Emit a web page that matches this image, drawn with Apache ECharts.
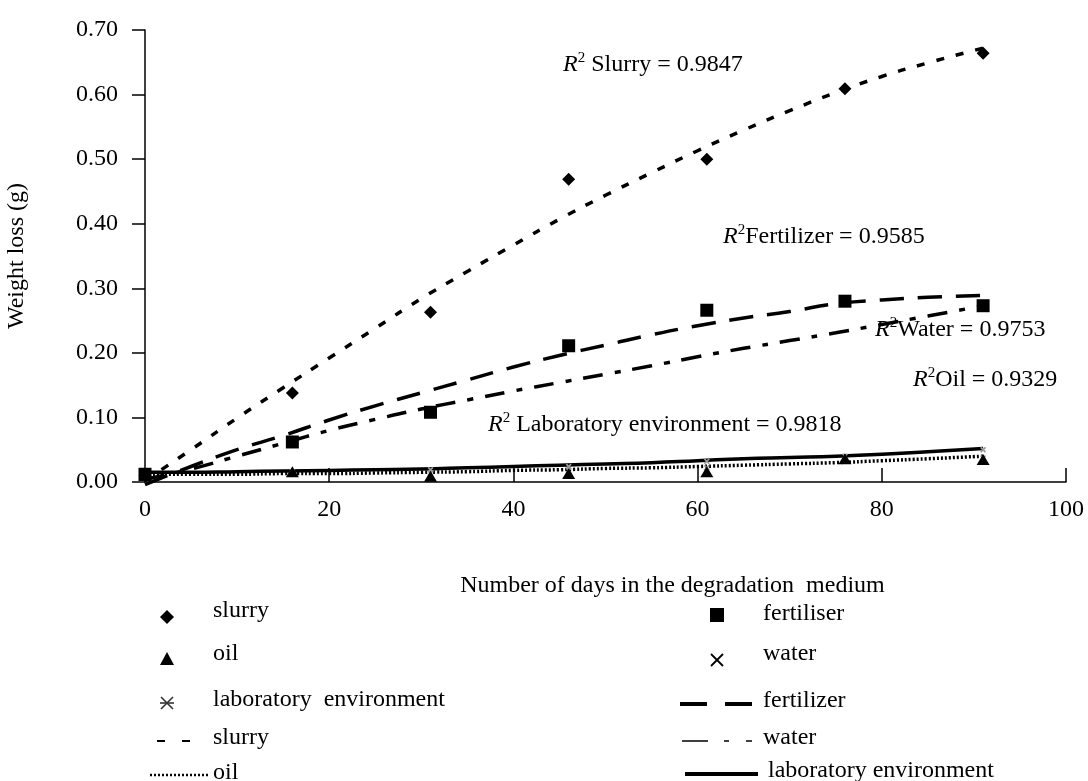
<!DOCTYPE html>
<html>
<head>
<meta charset="utf-8">
<script src="https://cdn.jsdelivr.net/npm/echarts@6/dist/echarts.min.js"></script>
<style>html,body{margin:0;padding:0;background:#fff}#c{width:1088px;height:781px}</style>
</head>
<body>
<div id="c"></div>
<script>
// ---- data ----
const days = [0, 16, 31, 46, 61, 76, 91];
const slurry = [0.010, 0.138, 0.263, 0.469, 0.500, 0.609, 0.664];
const fertiliser = [0.012, 0.062, 0.108, 0.211, 0.266, 0.280, 0.273];
const oil = [0.010, 0.016, 0.009, 0.013, 0.016, 0.036, 0.035];
const water = [0.010, 0.014, 0.014, 0.018, 0.022, 0.034, 0.037];
const lab = [0.014, 0.016, 0.019, 0.024, 0.032, 0.040, 0.050];

const trendDays = [0, 5, 10, 15, 20, 25, 30, 35, 40, 45, 50, 55, 60, 65, 70, 75, 80, 85, 91];
const slurryTrend = [0.002, 0.050, 0.099, 0.146, 0.192, 0.238, 0.284, 0.326, 0.367, 0.407, 0.444, 0.479, 0.513, 0.545, 0.575, 0.603, 0.628, 0.649, 0.672];
const fertTrend = [-0.004, 0.024, 0.050, 0.072, 0.096, 0.118, 0.138, 0.158, 0.178, 0.196, 0.212, 0.228, 0.242, 0.254, 0.264, 0.276, 0.282, 0.286, 0.289];
const waterTrend = [0.004, 0.020, 0.040, 0.060, 0.080, 0.097, 0.113, 0.127, 0.141, 0.154, 0.167, 0.180, 0.194, 0.207, 0.219, 0.231, 0.244, 0.257, 0.273];
const oilTrend = [0.012, 0.012, 0.012, 0.013, 0.013, 0.014, 0.015, 0.016, 0.018, 0.019, 0.021, 0.022, 0.024, 0.026, 0.028, 0.030, 0.033, 0.036, 0.040];
const labTrend = [0.015, 0.015, 0.016, 0.017, 0.018, 0.019, 0.020, 0.022, 0.024, 0.026, 0.028, 0.030, 0.033, 0.036, 0.038, 0.040, 0.043, 0.047, 0.052];

const yTicks = [0, 0.1, 0.2, 0.3, 0.4, 0.5, 0.6, 0.7];
const xTicks = [0, 20, 40, 60, 80, 100];

const annotations = [
  ['R', '2', ' Slurry = 0.9847'],
  ['R', '2', 'Fertilizer = 0.9585'],
  ['R', '2', 'Water = 0.9753'],
  ['R', '2', 'Oil = 0.9329'],
  ['R', '2', ' Laboratory environment = 0.9818']
];
const legendLeft = ['slurry', 'oil', 'laboratory  environment', 'slurry', 'oil'];
const legendRight = ['fertiliser', 'water', 'fertilizer', 'water', 'laboratory environment'];

// ---- helpers ----
const FONT = 'Liberation Serif';
const FS = 24;
const pair = (xs, ys) => xs.map((x, i) => [x, ys[i]]);

const crossPath = 'path://M2,0L5,3L8,0L10,2L7,5L10,8L8,10L5,7L2,10L0,8L3,5L0,2Z';

function lineSeries(name, xs, ys, type, width, clip) {
  return {
    name, type: 'line', data: pair(xs, ys), showSymbol: false, symbol: 'none',
    smooth: true, clip: clip !== false, z: 2,
    lineStyle: { color: '#000', width, type }
  };
}
function scatterSeries(name, ys, symbol, size, color) {
  return {
    name, type: 'scatter', data: pair(days, ys), symbol, symbolSize: size, z: 5,
    itemStyle: { color: color || '#000', opacity: 1 }
  };
}

const rich = {
  r: { fontFamily: FONT, fontSize: FS, fontStyle: 'italic', color: '#000' },
  s: { fontFamily: FONT, fontSize: 15, color: '#000', verticalAlign: 'top', padding: [0, 0, 13, 0] },
  t: { fontFamily: FONT, fontSize: FS, color: '#000' }
};
const annPos = [[563, 65], [723, 237], [875, 330], [913, 380], [488, 425]];
const graphics = [];
annotations.forEach((a, i) => {
  graphics.push({
    type: 'text', x: annPos[i][0], y: annPos[i][1], z: 10,
    style: { text: '{r|' + a[0] + '}{s|' + a[1] + '}{t|' + a[2] + '}', rich, verticalAlign: 'middle', align: 'left' }
  });
});

const textStyle = (t) => ({ text: t, fontFamily: FONT, fontSize: FS, fill: '#000', verticalAlign: 'middle', align: 'left' });
const leftY = [611, 654, 700, 738, 773];
const rightY = [614, 654, 701, 738, 771];
legendLeft.forEach((t, i) => graphics.push({ type: 'text', x: 213, y: leftY[i], style: textStyle(t) }));
legendRight.forEach((t, i) => graphics.push({ type: 'text', x: i === 4 ? 768 : 763, y: rightY[i], style: textStyle(t) }));

// legend glyphs
graphics.push(
  { type: 'polygon', shape: { points: [[167, 610], [174, 617], [167, 624], [160, 617]] }, style: { fill: '#000' } },
  { type: 'polygon', shape: { points: [[167, 652], [174, 665], [160, 665]] }, style: { fill: '#000' } },
  { type: 'line', shape: { x1: 160, y1: 703, x2: 174, y2: 703 }, style: { stroke: '#333', lineWidth: 1.6 } },
  { type: 'line', shape: { x1: 161, y1: 697, x2: 173, y2: 709 }, style: { stroke: '#333', lineWidth: 1.6 } },
  { type: 'line', shape: { x1: 173, y1: 697, x2: 161, y2: 709 }, style: { stroke: '#333', lineWidth: 1.6 } },
  { type: 'line', shape: { x1: 157, y1: 741, x2: 206, y2: 741 }, style: { stroke: '#000', lineWidth: 2, lineDash: [8, 17] } },
  { type: 'line', shape: { x1: 150, y1: 775, x2: 208, y2: 775 }, style: { stroke: '#000', lineWidth: 2.5, lineDash: [2, 2] } },
  { type: 'rect', shape: { x: 710, y: 608, width: 14, height: 14 }, style: { fill: '#000' } },
  { type: 'line', shape: { x1: 711, y1: 654, x2: 723, y2: 666 }, style: { stroke: '#000', lineWidth: 1.8 } },
  { type: 'line', shape: { x1: 723, y1: 654, x2: 711, y2: 666 }, style: { stroke: '#000', lineWidth: 1.8 } },
  { type: 'line', shape: { x1: 680, y1: 704, x2: 752, y2: 704 }, style: { stroke: '#000', lineWidth: 4, lineDash: [27, 18] } },
  { type: 'line', shape: { x1: 682, y1: 741, x2: 752, y2: 741 }, style: { stroke: '#000', lineWidth: 1.5, lineDash: [26, 16, 5, 17] } },
  { type: 'line', shape: { x1: 685, y1: 774, x2: 758, y2: 774 }, style: { stroke: '#000', lineWidth: 4 } }
);

const chart = echarts.init(document.getElementById('c'), null, { renderer: 'canvas' });
chart.setOption({
  backgroundColor: '#fff',
  animation: false,
  grid: { left: 145, right: 22, top: 30, bottom: 299, containLabel: false, outerBoundsMode: 'none' },
  xAxis: {
    type: 'value', min: xTicks[0], max: xTicks[xTicks.length - 1], interval: 20,
    name: 'Number of days in the degradation  medium', nameLocation: 'middle', nameGap: 92,
    nameTextStyle: { fontFamily: FONT, fontSize: FS, color: '#000', padding: [0, 0, 0, 134] },
    axisLine: { onZero: false, lineStyle: { color: '#000', width: 1.5 } },
    axisTick: { inside: true, length: 14, lineStyle: { color: '#000', width: 1.5 } },
    axisLabel: { margin: 16, fontFamily: FONT, fontSize: FS, color: '#000' },
    splitLine: { show: false }
  },
  yAxis: {
    type: 'value', min: yTicks[0], max: yTicks[yTicks.length - 1], interval: 0.1,
    name: 'Weight loss (g)', nameLocation: 'middle', nameGap: 116, nameRotate: 90,
    nameTextStyle: { fontFamily: FONT, fontSize: FS, color: '#000' },
    axisLine: { lineStyle: { color: '#000', width: 1.5 } },
    axisTick: { length: 13, lineStyle: { color: '#000', width: 1.5 } },
    axisLabel: { margin: 27, fontFamily: FONT, fontSize: FS, color: '#000', formatter: v => v.toFixed(2) },
    splitLine: { show: false }
  },
  series: [
    lineSeries('slurry trend', trendDays, slurryTrend, [8, 12], 3.5),
    lineSeries('fertilizer trend', trendDays, fertTrend, [24, 14], 3.5, false),
    lineSeries('water trend', trendDays, waterTrend, [20, 12, 6, 12], 3.5),
    lineSeries('oil trend', trendDays, oilTrend, [2, 2], 3.5),
    lineSeries('lab trend', trendDays, labTrend, 'solid', 3.5),
    scatterSeries('water', water, crossPath, 6, '#999'),
    scatterSeries('laboratory environment', lab, crossPath, 6, '#999'),
    scatterSeries('oil', oil, 'triangle', [13, 11]),
    scatterSeries('fertiliser', fertiliser, 'rect', 13),
    scatterSeries('slurry', slurry, 'diamond', 13)
  ],
  graphic: graphics
});
</script>
</body>
</html>
